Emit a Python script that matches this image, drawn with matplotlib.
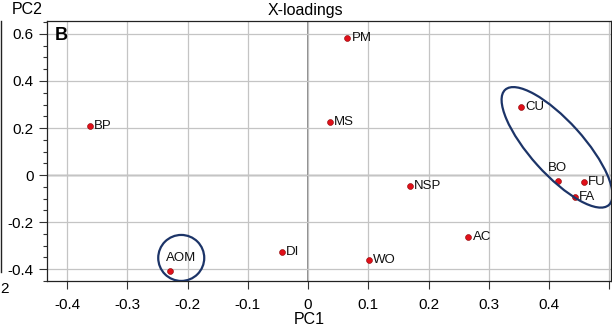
import numpy as np
import matplotlib
matplotlib.use("Agg")
import matplotlib.pyplot as plt
from matplotlib.patches import Ellipse
from matplotlib.transforms import ScaledTranslation
from matplotlib.lines import Line2D

plt.rcParams['font.family'] = ['Liberation Sans', 'DejaVu Sans']

# X-loadings
names = ['PM', 'BP', 'MS', 'CU', 'BO', 'FU', 'FA', 'NSP', 'AC', 'DI', 'WO', 'AOM']
pc1 = [0.065, -0.362, 0.036, 0.353, 0.414, 0.457, 0.442, 0.169, 0.266, -0.044, 0.101, -0.229]
pc2 = [0.584, 0.209, 0.226, 0.289, -0.023, -0.028, -0.093, -0.046, -0.261, -0.328, -0.360, -0.406]

x_ticks = [-0.4, -0.3, -0.2, -0.1, 0, 0.1, 0.2, 0.3, 0.4, 0.5]
x_ticklabels = ['-0.4', '-0.3', '-0.2', '-0.1', '0', '0.1', '0.2', '0.3', '0.4', '']
y_ticks = [-0.4, -0.2, 0, 0.2, 0.4, 0.6]
y_ticklabels = ['-0.4', '-0.2', '0', '0.2', '0.4', '0.6']

# group outlines: centre (data), width/height (inches), angle (deg)
groups = [((0.413, 0.118), 1.55, 0.53, -48),
          ((-0.2105, -0.352), 0.46, 0.46, 0)]

# label placement (offset in points, ha, va); default is right of the point
label_place = {'BO': ((0, 5), 'center', 'bottom'),
               'AOM': ((-3, 5), 'left', 'bottom')}

fig = plt.figure(figsize=(6.12, 3.30), dpi=100)
ax = fig.add_axes([47 / 612, 49 / 330, 564 / 612, 260 / 330])

ax.set_xlim(-0.4332, 0.5025)
ax.set_ylim(-0.450, 0.655)

ax.grid(True, color='#c4c4c4', linewidth=0.9, zorder=0)
ax.axhline(0, color='#222222', linewidth=0.9, zorder=1)
ax.axvline(0, color='#777777', linewidth=1.2, zorder=1)

ax.scatter(pc1, pc2, s=18, c='#e0101a', edgecolors='#8a0000',
           linewidths=0.4, zorder=5)
for n, x, y in zip(names, pc1, pc2):
    off, ha, va = label_place.get(n, ((3, 0), 'left', 'center'))
    ax.annotate(n, (x, y), xytext=off, textcoords='offset points',
                ha=ha, va=va, fontsize=9.5, color='#111111', zorder=6)

for (cx, cy), w, h, ang in groups:
    tr = fig.dpi_scale_trans + ScaledTranslation(cx, cy, ax.transData)
    ax.add_patch(Ellipse((0, 0), w, h, angle=ang, transform=tr,
                         fill=False, edgecolor='#1c3468', linewidth=1.6,
                         zorder=7))

ax.set_xticks(x_ticks)
ax.set_xticklabels(x_ticklabels)
ax.set_yticks(y_ticks)
ax.set_yticklabels(y_ticklabels)
ax.set_yticks(np.arange(-0.45, 0.651, 0.05), minor=True)
ax.tick_params(axis='both', which='major', direction='out', length=6,
               width=0.8, labelsize=11, color='#333333')
ax.tick_params(axis='y', which='minor', direction='out', length=3,
               width=0.8, color='#333333')
ax.tick_params(axis='x', which='major', pad=6)
for s in ax.spines.values():
    s.set_color('#222222')
    s.set_linewidth(0.9)

ax.text(0.014, 0.975, 'B', transform=ax.transAxes, ha='left', va='top',
        fontsize=13, fontweight='bold')
fig.text(305 / 612, 1 - 10 / 330, 'X-loadings', ha='center', va='center',
         fontsize=11.5)
fig.text(27 / 612, 1 - 10 / 330, 'PC2', ha='center', va='center', fontsize=11.5)
fig.text(309 / 612, 1 - 320 / 330, 'PC1', ha='center', va='center', fontsize=11.5)

# edge of the neighbouring panel, cut by the crop
fig.add_artist(Line2D([1 / 612, 1 / 612], [1 - 21 / 330, 1 - 272 / 330],
                      transform=fig.transFigure, color='#222222', linewidth=1))
fig.text(0.5 / 612, 1 - 289 / 330, '2', ha='left', va='center', fontsize=11)

fig.savefig('out.png', dpi=100)
